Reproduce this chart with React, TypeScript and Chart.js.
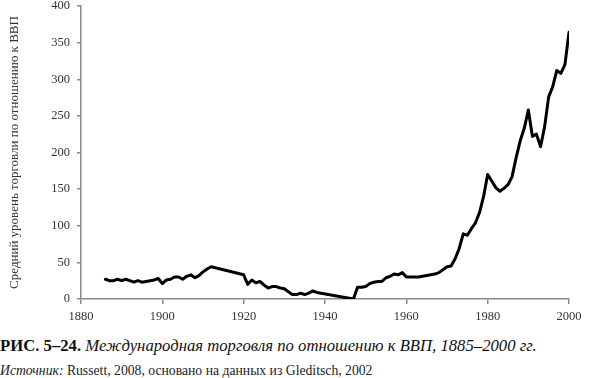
import React, { useEffect, useRef } from "react";
import { Chart, registerables } from "chart.js";

Chart.register(...registerables);

const years: number[] = [
  1886, 1887, 1888, 1889, 1890, 1891, 1892, 1893, 1894, 1895, 1896, 1897, 1898, 1899,
  1900, 1901, 1902, 1903, 1904, 1905, 1906, 1907, 1908, 1909, 1910, 1911, 1912,
  1920, 1921, 1922, 1923, 1924, 1925, 1926, 1927, 1928, 1929, 1930, 1931, 1932, 1933,
  1934, 1935, 1936, 1937, 1938,
  1947, 1948, 1949, 1950, 1951, 1952, 1953, 1954, 1955, 1956, 1957, 1958, 1959,
  1960, 1961, 1962, 1963, 1964, 1965, 1966, 1967, 1968, 1969,
  1970, 1971, 1972, 1973, 1974, 1975, 1976, 1977, 1978, 1979,
  1980, 1981, 1982, 1983, 1984, 1985, 1986, 1987, 1988, 1989,
  1990, 1991, 1992, 1993, 1994, 1995, 1996, 1997, 1998, 1999, 2000,
];

const tradeValues: number[] = [
  27, 25, 25, 27, 25, 27, 25, 23, 25, 23, 24, 25, 26, 28,
  21, 26, 27, 30, 30, 27, 31, 33, 29, 32, 37, 41, 44,
  33, 20, 26, 22, 24, 19, 15, 17, 17, 15, 14, 10, 6, 6,
  8, 6, 8, 11, 9,
  0, 16, 16, 17, 21, 23, 24, 24, 29, 31, 34, 33, 36,
  30, 30, 30, 30, 31, 32, 33, 34, 36, 40,
  44, 45, 55, 69, 89, 87, 96, 104, 118, 140,
  170, 161, 152, 147, 151, 156, 167, 193, 216, 233,
  258, 222, 225, 208, 235, 276, 290, 312, 308, 320, 364,
];

const xTicks: number[] = [1880, 1900, 1920, 1940, 1960, 1980, 2000];
const yTicks: number[] = [0, 50, 100, 150, 200, 250, 300, 350, 400];

const yTitle = "Средний уровень торговли по отношению к ВВП";
const captionBold = "РИС. 5–24.";
const captionItalic = " Международная торговля по отношению к ВВП, 1885–2000 гг.";
const sourceLabel = "Источник:";
const sourceText = " Russett, 2008, основано на данных из Gleditsch, 2002";

const FONT = "'Liberation Serif', 'DejaVu Serif', serif";
const AXIS = "#8a8a8a";
const TEXT = "#333333";

export default function App() {
  const ref = useRef<HTMLCanvasElement | null>(null);

  useEffect(() => {
    document.body.style.margin = "0";
    const canvas = ref.current;
    if (!canvas) return;
    const chart = new Chart(canvas, {
      type: "line",
      data: {
        datasets: [
          {
            data: years.map((y, i) => ({ x: y, y: tradeValues[i] })),
            borderColor: "#000000",
            borderWidth: 3,
            borderJoinStyle: "round",
            borderCapStyle: "round",
            pointRadius: 0,
            tension: 0,
            fill: false,
          },
        ],
      },
      options: {
        responsive: false,
        animation: false,
        devicePixelRatio: 1,
        layout: { padding: { left: 0, right: 24, top: 0, bottom: 0 } },
        plugins: { legend: { display: false }, tooltip: { enabled: false } },
        scales: {
          x: {
            type: "linear",
            min: xTicks[0],
            max: xTicks[xTicks.length - 1],
            afterBuildTicks: (s: any) => {
              s.ticks = xTicks.map((v) => ({ value: v }));
            },
            afterFit: (s: any) => {
              s.height = 26;
            },
            ticks: {
              callback: (v: any) => String(v),
              color: TEXT,
              font: { family: FONT, size: 12.5 },
              padding: 5,
              maxRotation: 0,
              autoSkip: false,
            },
            grid: {
              display: true,
              drawOnChartArea: false,
              drawTicks: true,
              tickLength: 5,
              color: AXIS,
              lineWidth: 1.5,
            },
            border: { display: true, color: AXIS, width: 1.5 },
          },
          y: {
            type: "linear",
            min: yTicks[0],
            max: yTicks[yTicks.length - 1],
            afterBuildTicks: (s: any) => {
              s.ticks = yTicks.map((v) => ({ value: v }));
            },
            afterFit: (s: any) => {
              s.width = 81;
              s.paddingTop = 6;
              s.paddingBottom = 0;
            },
            ticks: {
              callback: (v: any) => String(v),
              color: TEXT,
              font: { family: FONT, size: 12.5 },
              padding: 7,
              autoSkip: false,
            },
            grid: {
              display: true,
              drawOnChartArea: false,
              drawTicks: true,
              tickLength: 4,
              color: AXIS,
              lineWidth: 1.5,
            },
            border: { display: true, color: AXIS, width: 1.5 },
            title: {
              display: true,
              text: yTitle,
              color: TEXT,
              font: { family: FONT, size: 13 },
              padding: { top: 7, bottom: 0 },
            },
          },
        },
      },
    } as any);
    return () => chart.destroy();
  }, []);

  return (
    <div style={{ position: "absolute", left: 0, top: 0, width: 593, height: 378, background: "#fff" }}>
      <canvas ref={ref} width={593} height={325} style={{ display: "block", width: 593, height: 325 }} />
      <div
        style={{
          position: "absolute",
          left: 0,
          top: 336,
          fontFamily: FONT,
          fontSize: 16.7,
          lineHeight: "normal",
          color: "#111",
          whiteSpace: "nowrap",
        }}
      >
        <span style={{ fontWeight: "bold" }}>{captionBold}</span>
        <span style={{ fontStyle: "italic" }}>{captionItalic}</span>
      </div>
      <div
        style={{
          position: "absolute",
          left: 0,
          top: 363,
          fontFamily: FONT,
          fontSize: 13.7,
          lineHeight: "normal",
          color: "#222",
          whiteSpace: "nowrap",
        }}
      >
        <span style={{ fontStyle: "italic" }}>{sourceLabel}</span>
        <span>{sourceText}</span>
      </div>
    </div>
  );
}
